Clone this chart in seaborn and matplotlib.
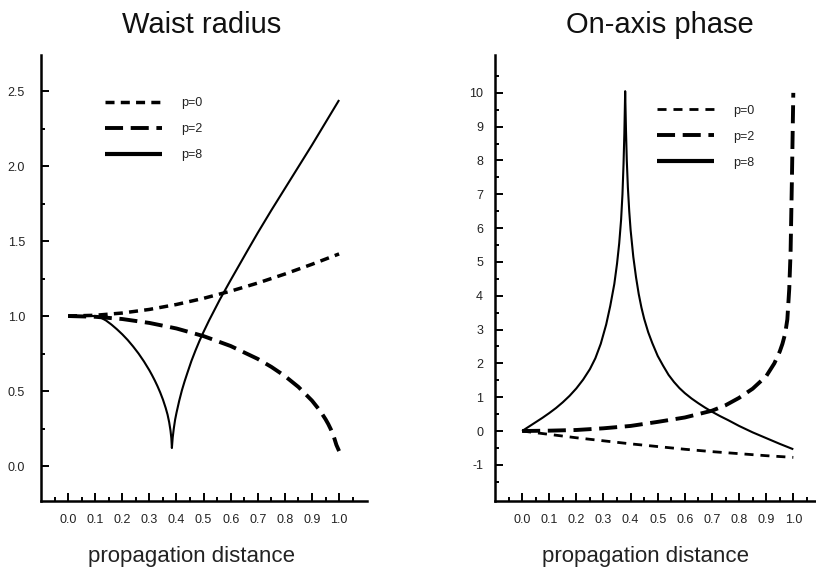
import matplotlib
matplotlib.use("Agg")
import matplotlib.pyplot as plt
from matplotlib.ticker import FixedLocator, FormatStrFormatter
import numpy as np
import pandas as pd
import seaborn as sns

# ---------------- data ----------------
# Waist radius
wr_p0_x = [0.0, 0.1, 0.2, 0.3, 0.4, 0.5, 0.6, 0.7, 0.8, 0.9, 1.0]
wr_p0_y = [1.000, 1.005, 1.020, 1.044, 1.077, 1.118, 1.166, 1.220, 1.280, 1.345, 1.414]

wr_p2_x = [0.0, 0.1, 0.2, 0.3, 0.4, 0.5, 0.6, 0.7, 0.75, 0.8, 0.85, 0.9, 0.93, 0.95,
           0.96, 0.97, 0.98, 0.99, 1.0]
wr_p2_y = [1.000, 0.995, 0.980, 0.954, 0.917, 0.866, 0.800, 0.714, 0.661, 0.600, 0.527,
           0.436, 0.368, 0.312, 0.280, 0.243, 0.199, 0.141, 0.100]

wr_p8_x = [0.0, 0.05, 0.10, 0.12, 0.14, 0.16, 0.18, 0.20, 0.22, 0.24, 0.26, 0.28, 0.30,
           0.31, 0.32, 0.33, 0.34, 0.35, 0.36, 0.367, 0.373, 0.378, 0.381, 0.383,
           0.386, 0.39, 0.395, 0.40, 0.41, 0.42, 0.43, 0.44, 0.455, 0.47, 0.485, 0.50,
           0.52, 0.54, 0.56, 0.58, 0.60, 0.63, 0.66, 0.70, 0.75, 0.80, 0.85, 0.90, 0.95, 1.00]
wr_p8_y = [1.000, 1.000, 1.000, 0.990, 0.970, 0.943, 0.912, 0.878, 0.840, 0.797, 0.750,
           0.697, 0.638, 0.605, 0.570, 0.532, 0.490, 0.443, 0.388, 0.343, 0.292, 0.235,
           0.185, 0.120, 0.190, 0.250, 0.310, 0.355, 0.435, 0.505, 0.565, 0.620, 0.700,
           0.770, 0.835, 0.895, 0.970, 1.040, 1.110, 1.175, 1.240, 1.335, 1.430, 1.555,
           1.705, 1.850, 1.995, 2.140, 2.290, 2.440]

# On-axis phase
ph_p0_x = [0.0, 0.1, 0.2, 0.3, 0.4, 0.5, 0.6, 0.7, 0.8, 0.9, 1.0]
ph_p0_y = [0.00, -0.10, -0.20, -0.29, -0.38, -0.46, -0.54, -0.61, -0.67, -0.73, -0.78]

ph_p2_x = [0.0, 0.1, 0.2, 0.3, 0.4, 0.5, 0.6, 0.7, 0.75, 0.8, 0.85, 0.9, 0.93, 0.95,
           0.96, 0.97, 0.978, 0.985, 0.99, 0.995, 1.0]
ph_p2_y = [0.00, 0.01, 0.03, 0.08, 0.15, 0.27, 0.40, 0.60, 0.76, 0.98, 1.25, 1.62, 2.00,
           2.35, 2.58, 2.88, 3.30, 4.20, 5.30, 7.50, 10.00]

ph_p8_x = [0.0, 0.025, 0.05, 0.075, 0.10, 0.125, 0.15, 0.175, 0.20, 0.225, 0.25, 0.27,
           0.29, 0.31, 0.325, 0.34, 0.35, 0.358, 0.365, 0.37, 0.374, 0.377, 0.380,
           0.383, 0.386, 0.39, 0.395, 0.40, 0.41, 0.42, 0.43, 0.44, 0.45, 0.465, 0.48,
           0.50, 0.52, 0.54, 0.56, 0.58, 0.60, 0.625, 0.65, 0.675, 0.70, 0.73, 0.76,
           0.80, 0.85, 0.90, 0.95, 1.00]
ph_p8_y = [0.00, 0.13, 0.26, 0.39, 0.53, 0.68, 0.85, 1.04, 1.26, 1.52, 1.83, 2.15,
           2.58, 3.15, 3.70, 4.35, 4.95, 5.55, 6.25, 7.00, 7.90, 8.80, 10.05,
           8.90, 8.00, 7.20, 6.50, 5.95, 5.15, 4.55, 4.05, 3.65, 3.32, 2.92, 2.60,
           2.22, 1.93, 1.66, 1.45, 1.27, 1.12, 0.96, 0.82, 0.69, 0.57, 0.44, 0.32,
           0.15, -0.04, -0.21, -0.38, -0.54]

labels = ["p=0", "p=2", "p=8"]
x_ticks = [0.0, 0.1, 0.2, 0.3, 0.4, 0.5, 0.6, 0.7, 0.8, 0.9, 1.0]
wr_yticks = [0.0, 0.5, 1.0, 1.5, 2.0, 2.5]
ph_yticks = [-1, 0, 1, 2, 3, 4, 5, 6, 7, 8, 9, 10]

# ---------------- style ----------------
sns.set_style("ticks")
plt.rcParams["font.family"] = ["Liberation Sans", "DejaVu Sans"]
plt.rcParams["lines.scale_dashes"] = False
plt.rcParams["lines.solid_capstyle"] = "butt"
plt.rcParams["lines.dash_capstyle"] = "butt"
plt.rcParams["lines.solid_joinstyle"] = "round"

fig = plt.figure(figsize=(8.16, 5.73), dpi=100)
W, H = 816.0, 573.0
ax1 = fig.add_axes([41 / W, 72 / H, 326 / W, 446 / H])
ax2 = fig.add_axes([495 / W, 72 / H, 320 / W, 446 / H])

def draw(ax, x, y, label, lw, ls):
    df = pd.DataFrame({"x": x, "y": y})
    sns.lineplot(data=df, x="x", y="y", ax=ax, color="black", lw=lw, linestyle=ls,
                 label=label, sort=False, estimator=None, errorbar=None)

# left panel
draw(ax1, wr_p0_x, wr_p0_y, labels[0], 2.5, (0, (6.5, 4.5)))
draw(ax1, wr_p2_x, wr_p2_y, labels[1], 2.8, (0, (13, 5.5)))
draw(ax1, wr_p8_x, wr_p8_y, labels[2], 1.5, "-")

# right panel
draw(ax2, ph_p0_x, ph_p0_y, labels[0], 2.0, (0, (6.5, 5.0)))
draw(ax2, ph_p2_x, ph_p2_y, labels[1], 2.8, (0, (13, 5.5)))
draw(ax2, ph_p8_x, ph_p8_y, labels[2], 1.5, "-")

def style_axes(ax, xmax, ylim, yticks, yminor, yfmt, ypad):
    ax.set_xlim(-0.1, xmax)
    ax.set_ylim(*ylim)
    ax.xaxis.set_major_locator(FixedLocator(x_ticks))
    ax.xaxis.set_minor_locator(FixedLocator([-0.05 + 0.1 * i for i in range(12)]))
    ax.yaxis.set_major_locator(FixedLocator(yticks))
    ax.yaxis.set_minor_locator(FixedLocator(yminor))
    ax.xaxis.set_major_formatter(FormatStrFormatter("%.1f"))
    ax.yaxis.set_major_formatter(FormatStrFormatter(yfmt))
    for s in ["top", "right"]:
        ax.spines[s].set_visible(False)
    for s in ["left", "bottom"]:
        ax.spines[s].set_linewidth(1.8)
        ax.spines[s].set_color("black")
    ax.tick_params(axis="both", which="both", direction="in", color="black",
                   width=1.4, labelsize=9, labelcolor="#222222")
    ax.tick_params(axis="both", which="major", length=5.5)
    ax.tick_params(axis="both", which="minor", length=3.2)
    ax.tick_params(axis="x", which="major", pad=9.5)
    ax.tick_params(axis="y", which="major", pad=ypad)
    ax.set_xlabel("")
    ax.set_ylabel("")

style_axes(ax1, 1.103, (-0.233, 2.74), wr_yticks, [0.25, 0.75, 1.25, 1.75, 2.25], "%.1f", 11.5)
style_axes(ax2, 1.08, (-2.07, 11.12), ph_yticks, [-1.5 + i for i in range(13)], "%d", 8.6)

def make_legend(ax, anchor):
    leg = ax.legend(loc="upper left", bbox_to_anchor=anchor, frameon=False, fontsize=9,
                    handlelength=4.6, handletextpad=1.5, labelspacing=1.12,
                    borderpad=0, borderaxespad=0)
    for t in leg.get_texts():
        t.set_color("#222222")
    hl = leg.get_lines()
    hl[2].set_linewidth(3.0)
    return leg

make_legend(ax1, (0.196, 0.905))
make_legend(ax2, (0.506, 0.889))

# titles and axis labels
fig.text(202 / W, 1 - 33 / H, "Waist radius", ha="center", va="baseline", fontsize=21,
         color="#111111")
fig.text(660 / W, 1 - 33 / H, "On-axis phase", ha="center", va="baseline", fontsize=21,
         color="#111111")
fig.text(192 / W, 1 - 562 / H, "propagation distance", ha="center", va="baseline",
         fontsize=16, color="#222222")
fig.text(645 / W, 1 - 562 / H, "propagation distance", ha="center", va="baseline",
         fontsize=16, color="#222222")

fig.savefig("out.png", dpi=100)
